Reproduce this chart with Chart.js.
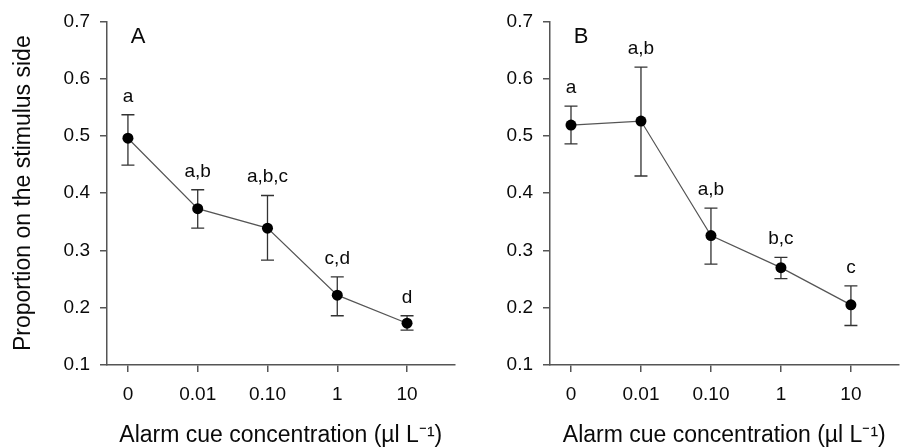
<!DOCTYPE html>
<html>
<head>
<meta charset="utf-8">
<script src="https://cdn.jsdelivr.net/npm/chart.js@4.4.0/dist/chart.umd.min.js"></script>
<style>
  body { margin: 0; background: #fff; }
  #wrap { position: relative; width: 904px; height: 447px; }
  canvas { position: absolute; top: 0; }
</style>
</head>
<body>
<div id="wrap">
  <canvas id="grafA" width="460" height="447" style="left:0"></canvas>
  <canvas id="grafB" width="444" height="447" style="left:460px"></canvas>
</div>
<script>
// concentrations on the x axis
const concLabels = ['0', '0.01', '0.10', '1', '10'];

// panel A
const meanA = [0.496, 0.373, 0.339, 0.222, 0.173];
const upperA = [0.537, 0.406, 0.396, 0.254, 0.186];
const lowerA = [0.449, 0.339, 0.283, 0.186, 0.161];
const groupsA = ['a', 'a,b', 'a,b,c', 'c,d', 'd'];

// panel B
const meanB = [0.519, 0.526, 0.326, 0.270, 0.205];
const upperB = [0.552, 0.620, 0.374, 0.288, 0.238];
const lowerB = [0.486, 0.430, 0.276, 0.251, 0.169];
const groupsB = ['a', 'a,b', 'a,b', 'b,c', 'c'];

const yTicks = [0.1, 0.2, 0.3, 0.4, 0.5, 0.6, 0.7];

const fonte = '"Liberation Sans", Arial, sans-serif';
const corTexto = '#0a0a0a';
const corEixo = '#555';

// draws error bars, letters and panel tag from the chart's own scales
const anotacoes = {
    id: 'anotacoes',
    beforeDatasetsDraw(chart) {
        const o = chart.options.plugins.anotacoes;
        const ctx = chart.ctx;
        const sx = chart.scales.x, sy = chart.scales.y;
        ctx.save();
        ctx.strokeStyle = '#333';
        ctx.lineWidth = 1.3;
        o.upper.forEach(function (up, i) {
            const x = sx.getPixelForValue(i);
            const yt = sy.getPixelForValue(up);
            const yb = sy.getPixelForValue(o.lower[i]);
            ctx.beginPath();
            ctx.moveTo(x, yt); ctx.lineTo(x, yb);
            ctx.moveTo(x - 6.5, yt); ctx.lineTo(x + 6.5, yt);
            ctx.moveTo(x - 6.5, yb); ctx.lineTo(x + 6.5, yb);
            ctx.stroke();
        });
        ctx.restore();
    },
    afterDatasetsDraw(chart) {
        const o = chart.options.plugins.anotacoes;
        const ctx = chart.ctx;
        const sx = chart.scales.x, sy = chart.scales.y;
        ctx.save();
        ctx.fillStyle = corTexto;
        ctx.textAlign = 'center';
        ctx.textBaseline = 'alphabetic';
        ctx.font = '19px ' + fonte;
        o.groups.forEach(function (g, i) {
            ctx.fillText(g, sx.getPixelForValue(i), sy.getPixelForValue(o.upper[i]) - 13);
        });
        ctx.font = '22px ' + fonte;
        ctx.textBaseline = 'middle';
        ctx.fillText(o.tag, chart.chartArea.left + 31, chart.chartArea.top + 16);
        ctx.restore();
    }
};

function criarPainel(id, media, sup, inf, grupos, tag, larguraY, padDir, tituloY) {
    return new Chart(document.getElementById(id), {
        type: 'line',
        data: {
            datasets: [{
                data: media.map(function (v, i) { return { x: i, y: v }; }),
                borderColor: '#555',
                borderWidth: 1.2,
                pointRadius: 5.5,
                pointBackgroundColor: '#000',
                pointBorderColor: '#000',
                pointBorderWidth: 0,
                tension: 0
            }]
        },
        options: {
            responsive: false,
            animation: false,
            layout: { padding: { top: 15, right: padDir, bottom: 0, left: 0 } },
            plugins: {
                legend: { display: false },
                tooltip: { enabled: false },
                anotacoes: { upper: sup, lower: inf, groups: grupos, tag: tag }
            },
            scales: {
                x: {
                    type: 'linear',
                    min: -0.3,
                    max: 4.68,
                    afterBuildTicks: function (s) {
                        s.ticks = concLabels.map(function (c, i) { return { value: i }; });
                    },
                    afterFit: function (s) { s.height = 82; },
                    ticks: {
                        callback: function (v) { return concLabels[v]; },
                        color: corTexto,
                        font: { family: fonte, size: 19 },
                        padding: 11,
                        maxRotation: 0
                    },
                    grid: { drawOnChartArea: false, tickLength: 7, color: corEixo, lineWidth: 1.5 },
                    border: { color: corEixo, width: 1.5 },
                    title: {
                        display: true,
                        text: 'Alarm cue concentration (µl L⁻¹)',
                        color: corTexto,
                        font: { family: fonte, size: 23, lineHeight: 1 },
                        padding: 0
                    }
                },
                y: {
                    min: 0.1,
                    max: 0.7,
                    afterBuildTicks: function (s) {
                        s.ticks = yTicks.map(function (v) { return { value: v }; });
                    },
                    afterFit: function (s) { s.width = larguraY; },
                    ticks: {
                        callback: function (v) { return v.toFixed(1); },
                        color: corTexto,
                        font: { family: fonte, size: 19 },
                        padding: 10
                    },
                    grid: { drawOnChartArea: false, tickLength: 7, color: corEixo, lineWidth: 1.5 },
                    border: { color: corEixo, width: 1.5 },
                    title: {
                        display: tituloY,
                        text: 'Proportion on the stimulus side',
                        color: corTexto,
                        font: { family: fonte, size: 23, lineHeight: 1.2 },
                        padding: { top: 10, bottom: 0 }
                    }
                }
            }
        },
        plugins: [anotacoes]
    });
}

criarPainel('grafA', meanA, upperA, lowerA, groupsA, 'A', 107, 2, true);
criarPainel('grafB', meanB, upperB, lowerB, groupsB, 'B', 90, 1, false);
</script>
</body>
</html>
